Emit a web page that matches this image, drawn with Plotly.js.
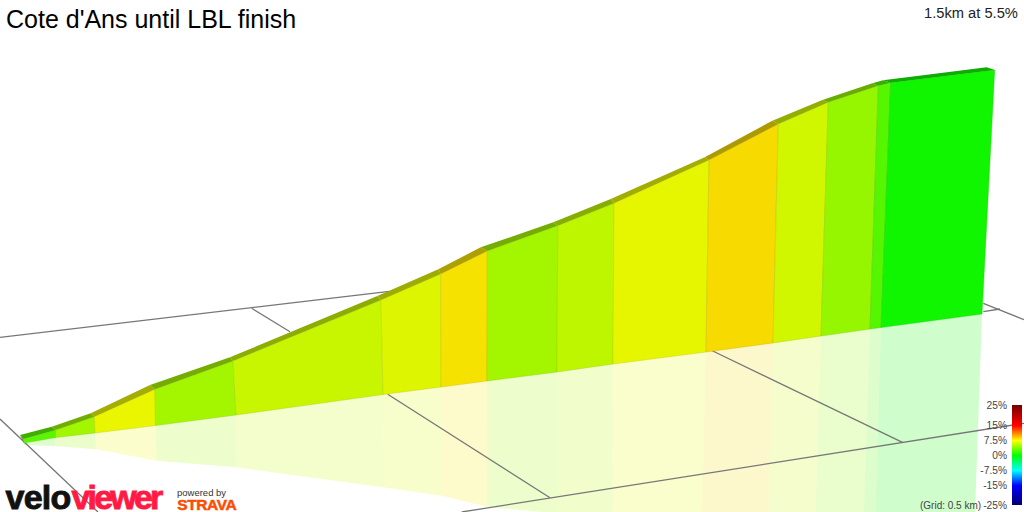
<!DOCTYPE html>
<html>
<head>
<meta charset="utf-8">
<script src="https://cdn.plot.ly/plotly-3.0.1.min.js"></script>
<style>
html,body{margin:0;padding:0;background:#fff;overflow:hidden}
#chart{width:1024px;height:512px}
.annotation[data-index="0"] text{letter-spacing:-.8px;stroke:#111;stroke-width:.9px}
.annotation[data-index="1"] text{letter-spacing:-2.8px;stroke:#ff1a44;stroke-width:.9px}
.annotation[data-index="3"] text{letter-spacing:-.4px;stroke:#fc4c02;stroke-width:.5px}
</style>
</head>
<body>
<div id="chart"></div>
<script>
// Values, in the projected picture plane of the 3D view
const baseX  = [24,55.5,95,155.5,236,383,441,487,557,613,706,773,821,870,881,982];
const baseY  = [443,437.5,433,425.5,415,394.5,387,381,372,364,352,343,336,329,327.5,314];
const crestX = [23,55.7,94.3,155,233,381,440.7,487.3,557.7,614,709,778.3,828.3,878.3,890.7,994.7];
const crestY = [439,430,416.7,389.3,361,300,274,251,225.7,203.3,160,124,102.3,85.7,82.7,70];
const rimX   = [20,51.7,90.7,150,230,377.3,438.3,480.7,553.3,610.7,704.7,772.3,822.3,872.3,883,986.7];
const rimY   = [435,426.7,413.3,385,357.3,296,269.3,247.3,222.3,199,157.3,120.7,100,83.3,80.3,67.3];
const shadowX = [24,55,96,156.7,236.7,383.3,441.7,487.3,558,612.7,702,768.3,815.7,864,875.7,975];
const shadowY = [445,446,449.3,460.7,467.3,487.3,495.7,506.7,513.5,513.5,513.5,513.5,513.5,513.5,513.5,513.5];
const gradePct = [2.75,4.9,7.1,5.0,6.06,6.73,8.1,5.0,5.8,7.0,8.35,6.34,4.56,2.6,0.5];

const gridLinesX = [[0,389.3],[251.7,290],[387.7,550],[461.7,1024],[710.7,903],[0,98],[983.3,1024],[983.3,1000]];
const gridLinesY = [[337.3,291.3],[308.3,331.7],[394.3,497.7],[512,423.3],[350,442.7],[419,512],[303.3,319.7],[311.7,309]];

const scaleGrades = [-25,-15,-7.5,0,7.5,15,25];
const scaleColors = [[0,0,110],[0,0,255],[0,255,255],[0,255,0],[255,255,0],[255,0,0],[120,0,0]];
const legendGrades = [-25,-15,-7.5,0,7.5,15,25];
const legendLabels = ['-25%','-15%','-7.5%','0%','7.5%','15%','25%'];
const legendSteps = [-25,-22.5,-20,-17.5,-15,-12.5,-10,-7.5,-5,-2.5,0,2.5,5,7.5,10,12.5,15,17.5,20,22.5,25];

function gradeRGB(g){
  for(let i=0;i<scaleGrades.length-1;i++){
    if(g<=scaleGrades[i+1]){
      const t=(g-scaleGrades[i])/(scaleGrades[i+1]-scaleGrades[i]);
      return scaleColors[i].map((c,k)=>c+t*(scaleColors[i+1][k]-c));
    }
  }
  return scaleColors[scaleColors.length-1];
}
const css=(c,f,a)=>`rgba(${c.map(v=>Math.round(v*f)).join(',')},${a})`;
const poly=(x,y,fill,line)=>({type:'scatter',mode:'lines',x,y,fill:'toself',fillcolor:fill,
  line:{color:line||'rgba(0,0,0,0)',width:line?0.7:0},hoverinfo:'skip',showlegend:false,xaxis:'x',yaxis:'y'});

const traces=[];
// reflection on the ground
gradePct.forEach((g,i)=>{
  traces.push(poly([baseX[i],baseX[i+1],shadowX[i+1],shadowX[i],baseX[i]],
                   [baseY[i],baseY[i+1],shadowY[i+1],shadowY[i],baseY[i]],
                   css(gradeRGB(g),0.97,0.2)));
});
// ground grid
gridLinesX.forEach((x,i)=>traces.push({type:'scatter',mode:'lines',x,y:gridLinesY[i],
  line:{color:'#777',width:1.3},hoverinfo:'skip',showlegend:false,xaxis:'x',yaxis:'y'}));
// start cap
traces.push(poly([rimX[0],crestX[0],baseX[0],rimX[0]],[rimY[0],crestY[0],baseY[0],rimY[0]],'#666'));
// wall and top ribbon
gradePct.forEach((g,i)=>{
  const c=gradeRGB(g);
  traces.push(poly([crestX[i],crestX[i+1],baseX[i+1],baseX[i],crestX[i]],
                   [crestY[i],crestY[i+1],baseY[i+1],baseY[i],crestY[i]],
                   css(c,0.965,1),css(c,0.8,0.6)));
  traces.push(poly([rimX[i],rimX[i+1],crestX[i+1],crestX[i],rimX[i]],
                   [rimY[i],rimY[i+1],crestY[i+1],crestY[i],rimY[i]],
                   css(c,0.68,1)));
});
// grade legend
traces.push({type:'heatmap',x:[0,1],y:legendSteps,z:legendSteps.map(v=>[v,v]),xaxis:'x2',yaxis:'y2',
  zmin:-25,zmax:25,showscale:false,hoverinfo:'skip',zsmooth:'best',
  colorscale:scaleGrades.map((g,i)=>[(g+25)/50,css(scaleColors[i],1,1)])});

const ann=(text,x,y,size,color,xanchor,weight)=>({text,x,y,xref:'x',yref:'y',
  xanchor,yanchor:'middle',showarrow:false,font:{family:'"Liberation Sans",Arial,sans-serif',size,color,weight:weight||400}});

const layout={
  width:1024,height:512,margin:{l:0,r:0,t:0,b:0},paper_bgcolor:'#fff',plot_bgcolor:'rgba(0,0,0,0)',showlegend:false,
  xaxis:{range:[0,1024],domain:[0,1],visible:false,fixedrange:true},
  yaxis:{range:[512,0],domain:[0,1],visible:false,fixedrange:true},
  xaxis2:{anchor:'y2',domain:[1012/1024,1022/1024],range:[0,1],visible:false,fixedrange:true},
  yaxis2:{anchor:'x2',domain:[7/512,107/512],range:[-25,25],side:'left',tickmode:'array',tickvals:legendGrades,ticktext:legendLabels,
    showgrid:false,zeroline:false,showline:false,ticks:'outside',ticklen:2,tickcolor:'rgba(0,0,0,0)',
    tickfont:{family:'"Liberation Sans",Arial,sans-serif',size:10.2,color:'#444'},fixedrange:true},
  annotations:[
    ann('velo',2,497,34,'#111','left',700),
    ann('viewer',61,497,34,'#ff1a44','left',700),
    ann('powered by',175,492,9.5,'#333','left'),
    ann('STRAVA',174,504,15.5,'#fc4c02','left',700),
    ann('Cote d\'Ans until LBL finish',4,19,25,'#000','left'),
    ann('1.5km at 5.5%',1020,13,14.7,'#222','right'),
    ann('(Grid: 0.5 km)',983,505,10,'#444','right')
  ]
};
Plotly.newPlot('chart',traces,layout,{displayModeBar:false,staticPlot:true});
</script>
</body>
</html>
